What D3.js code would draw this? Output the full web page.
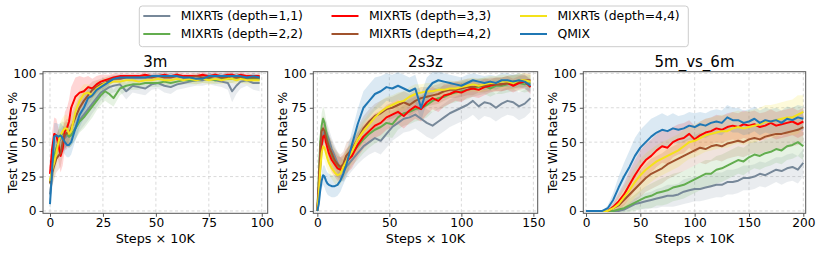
<!DOCTYPE html>
<html>
<head>
<meta charset="utf-8">
<script src="https://cdn.jsdelivr.net/npm/d3@7/dist/d3.min.js"></script>
<style>
  body { margin: 0; background: #fff; }
  svg { display: block; font-family: "DejaVu Sans", sans-serif; }
</style>
</head>
<body>
<div id="chart"></div>
<script>
// ---- data -------------------------------------------------------------
const seriesNames = ['MIXRTs (depth=1,1)', 'MIXRTs (depth=2,2)', 'MIXRTs (depth=3,3)',
                     'MIXRTs (depth=4,2)', 'MIXRTs (depth=4,4)', 'QMIX'];
const mapNames = ['3m', '2s3z', '5m_vs_6m'];
const yTickValues = [0, 25, 50, 75, 100];
const xTicks3m = [0, 25, 50, 75, 100];
const xTicks2s3z = [0, 50, 100, 150];
const xTicks5m6m = [0, 50, 100, 150, 200];

// 3m
const steps3m = [0,1,2,3,4,5,6,7,8,9,10,12,14,16,18,20,22,24,26,28,30,33,36,39,42,45,48,51,54,57,60,63,66,69,72,75,78,81,84,86,88,90,93,96,99];
const win3m_d11 = [12,25,40,45,50,52,54,53,55,54,55,60,66,70,74,78,82,86,88,90,91,92,87,91,90,89,92,93,91,90,92,93,94,95,95,96,95,94,93,87,91,94,95,93,93];
const win3m_d22 = [20,30,40,45,50,55,56,55,56,54,55,60,65,68,72,76,80,84,87,85,82,89,91,92,92,93,93,93,94,93,94,95,95,95,96,96,95,96,96,96,97,96,96,96,96];
const win3m_d33 = [27,45,56,55,48,40,45,58,60,65,75,83,86,87,90,89,92,94,95,96,97,98,98,98,98,99,98,98,99,98,99,98,98,98,99,98,99,98,99,99,98,99,98,98,98];
const win3m_d42 = [20,28,33,38,40,42,50,55,57,56,60,68,75,80,84,88,90,92,93,95,96,96,97,97,97,97,97,98,97,97,98,97,97,98,97,97,98,97,97,98,97,97,97,97,97];
const win3m_d44 = [22,30,35,42,50,55,58,60,60,56,58,72,80,85,86,84,89,91,93,93,94,94,95,95,94,95,95,96,95,95,96,95,96,95,96,95,96,95,96,96,95,96,95,95,95];
const win3m_qmix = [5,30,54,55,54,55,53,50,48,48,50,60,70,75,82,84,88,90,92,94,96,97,97,97,97,97,98,98,98,98,98,97,97,96,96,98,98,98,98,98,98,98,97,98,97];
const sd3m_d11 = [6,10,12,10,9,8,8,8,8,8,8,8,8,8,8,7,7,6,6,5,5,5,6,5,5,5,4,4,5,5,4,4,4,4,4,4,4,4,5,8,6,5,4,5,6];
const sd3m_d22 = [8,10,10,10,9,9,9,9,9,8,8,8,8,8,8,8,7,7,7,7,6,5,4,4,4,3,3,3,3,3,3,3,3,3,3,3,3,3,3,3,3,3,3,3,3];
const sd3m_d33 = [8,12,12,12,12,12,12,14,15,16,15,14,12,10,8,7,6,5,4,3,3,2,2,2,2,2,2,2,2,2,2,2,2,2,2,2,2,2,2,2,2,2,2,2,2];
const sd3m_d42 = [8,10,10,10,10,10,10,10,10,10,10,9,9,8,7,6,5,4,4,3,3,3,2,2,2,2,2,2,2,2,2,2,2,2,2,2,2,2,2,2,2,2,2,2,2];
const sd3m_d44 = [8,10,10,10,10,10,10,10,10,10,10,9,8,7,6,6,5,4,4,4,3,3,3,3,3,3,3,3,3,3,3,3,3,3,3,3,3,3,3,3,3,3,3,3,3];
const sd3m_qmix = [6,10,10,9,9,9,9,9,9,9,9,9,9,8,7,6,5,4,3,3,2,2,2,2,2,2,2,2,2,2,2,2,2,2,2,2,2,2,2,2,2,2,2,2,2];

// 2s3z
const steps2s3z = [0,1,2,3,4,5,6,7,8,10,12,14,16,18,20,24,28,32,36,40,44,48,52,56,60,64,68,72,76,80,84,88,92,96,100,104,108,112,116,120,124,128,132,136,140,144,148];
const win2s3z_d11 = [0,15,30,45,55,58,58,55,52,45,40,35,31,29,32,37,42,47,50,53,51,56,61,64,67,68,70,67,64,62,65,68,71,73,75,77,80,76,79,78,75,78,80,79,76,78,82];
const win2s3z_d22 = [0,25,50,62,67,64,58,52,47,40,36,33,30,31,35,42,47,52,56,59,61,64,63,68,71,72,74,75,77,80,82,83,85,86,87,88,89,90,91,89,91,91,92,93,93,92,93];
const win2s3z_d33 = [0,15,35,48,54,55,50,46,42,37,34,31,30,32,36,40,48,54,58,62,64,68,70,72,69,73,76,74,79,82,80,84,85,87,86,88,89,88,90,91,92,92,93,91,93,94,90];
const win2s3z_d42 = [0,20,45,58,60,58,54,50,47,42,37,34,32,34,40,45,52,60,65,69,71,74,75,77,79,77,80,82,83,84,85,87,88,88,89,90,90,91,91,92,92,92,93,94,94,95,95];
const win2s3z_d44 = [0,12,30,42,47,46,42,38,35,31,28,26,27,32,36,43,52,58,63,68,72,75,77,79,80,83,85,86,87,87,88,88,89,89,90,91,92,91,92,93,93,94,94,93,95,95,94];
const win2s3z_qmix = [0,5,15,22,26,25,22,20,19,18,18,19,22,27,33,48,63,75,80,85,87,90,89,91,89,87,89,75,88,93,95,94,93,92,91,93,95,94,93,94,93,95,95,94,95,94,91];
const sd2s3z_d11 = [0,3,6,8,8,8,8,8,8,8,8,8,8,8,8,8,8,9,9,10,10,10,10,10,10,10,10,10,10,10,10,10,10,10,10,10,10,10,10,10,10,10,10,10,10,10,10];
const sd2s3z_d22 = [0,4,8,9,9,9,9,9,9,9,9,9,9,9,9,9,10,10,10,10,10,10,10,9,9,9,9,9,9,8,8,8,7,7,7,7,6,6,6,6,6,6,6,6,6,6,6];
const sd2s3z_d33 = [0,4,8,9,9,9,9,9,9,9,9,9,9,9,9,9,9,9,9,9,9,9,9,9,9,9,9,9,9,8,8,8,7,7,7,6,6,6,6,5,5,5,5,5,5,5,5];
const sd2s3z_d42 = [0,4,8,9,9,9,9,9,9,9,9,9,9,9,9,9,9,9,9,9,9,8,8,8,8,8,8,8,7,7,7,7,6,6,6,6,6,5,5,5,5,5,5,5,5,5,5];
const sd2s3z_d44 = [0,4,8,9,9,9,9,8,8,8,8,8,8,8,8,8,8,8,8,8,8,8,7,7,7,7,7,6,6,6,6,6,6,5,5,5,5,5,5,5,5,5,5,5,5,5,5];
const sd2s3z_qmix = [0,2,4,6,7,8,8,8,8,8,8,8,8,8,9,10,11,12,12,12,11,10,10,10,10,10,10,10,9,8,7,6,6,6,6,6,5,5,5,5,5,5,5,5,5,5,5];

// 5m_vs_6m
const steps5m6m = [0,5,10,15,20,25,30,35,40,45,50,55,60,65,70,75,80,85,90,95,100,105,110,115,120,125,130,135,140,145,150,155,160,165,170,175,180,185,190,195,200];
const win5m6m_d11 = [0,0,0,0,0,0,0,1,3,5,6,7,8,9,10,11,11,12,14,15,16,16,17,18,19,19,21,21,22,24,24,25,27,26,28,30,29,31,32,30,35];
const win5m6m_d22 = [0,0,0,0,0,0,1,2,4,6,8,10,11,13,14,15,17,18,19,21,23,25,27,27,30,31,33,35,37,36,39,41,40,42,43,45,44,47,48,50,47];
const win5m6m_d33 = [0,0,0,0,0,3,7,12,19,26,32,37,40,44,47,46,50,52,53,56,52,55,57,58,60,59,61,62,61,63,62,63,61,62,64,62,63,64,65,63,65];
const win5m6m_d42 = [0,0,0,0,0,2,4,8,12,16,20,24,27,29,31,34,36,38,40,42,44,46,45,47,48,47,49,50,51,50,52,53,52,54,55,56,56,57,58,59,61];
const win5m6m_d44 = [0,0,0,0,0,2,5,10,15,21,26,30,33,36,38,40,42,44,47,50,51,53,55,56,57,58,58,60,61,60,61,62,63,65,65,66,67,68,68,70,72];
const win5m6m_qmix = [0,0,0,0,2,8,17,25,32,40,46,50,54,57,59,58,60,59,60,62,61,63,62,64,65,64,68,66,66,64,65,67,64,66,65,66,64,67,66,68,67];
const sd5m6m_d11 = [0,0,0,0,0,0,1,2,3,4,5,6,6,7,7,8,8,8,9,9,9,9,9,9,9,9,9,9,9,9,9,9,9,9,9,9,10,10,10,10,10];
const sd5m6m_d22 = [0,0,0,0,0,1,2,3,5,6,7,8,9,9,10,10,10,10,10,10,10,10,10,10,10,10,10,10,10,10,10,10,10,10,10,10,10,10,10,10,10];
const sd5m6m_d33 = [0,0,0,0,1,3,6,8,10,11,12,12,12,12,12,12,11,11,11,10,10,10,10,10,10,10,10,10,10,10,10,10,10,10,10,10,10,10,10,10,10];
const sd5m6m_d42 = [0,0,0,0,1,2,4,6,8,9,10,10,11,11,11,11,11,11,11,11,11,11,11,11,11,11,11,11,11,11,11,11,11,11,11,11,11,11,11,11,11];
const sd5m6m_d44 = [0,0,0,0,1,3,6,8,10,11,12,12,12,12,12,12,12,12,12,12,12,12,12,12,12,12,12,12,12,12,12,12,12,12,12,12,12,12,13,14,12];
const sd5m6m_qmix = [0,0,0,0,2,5,8,10,12,13,13,13,13,12,12,11,11,10,10,10,10,9,9,9,9,9,9,9,9,9,9,9,9,9,9,9,9,9,9,9,9];

// ---- chart ------------------------------------------------------------
const winRateChart = (() => {
  const width = 822,
        height = 255,
        top = 71.7,
        bottom = 213.3;

  const colors = ['#778899', '#63ad4f', '#ff0000', '#a0522d', '#f4e21a', '#1f77b4'];
  const legendOrder = [0, 2, 4, 1, 3, 5]; // row major, 3 columns

  const panels = [
    {steps: steps3m, xTicks: xTicks3m, xDomain: [-3.3, 102.8], left: 43, right: 267.7,
     means: [win3m_d11, win3m_d22, win3m_d33, win3m_d42, win3m_d44, win3m_qmix],
     sds: [sd3m_d11, sd3m_d22, sd3m_d33, sd3m_d42, sd3m_d44, sd3m_qmix]},
    {steps: steps2s3z, xTicks: xTicks2s3z, xDomain: [-2.8, 153], left: 313.3, right: 537.7,
     means: [win2s3z_d11, win2s3z_d22, win2s3z_d33, win2s3z_d42, win2s3z_d44, win2s3z_qmix],
     sds: [sd2s3z_d11, sd2s3z_d22, sd2s3z_d33, sd2s3z_d42, sd2s3z_d44, sd2s3z_qmix]},
    {steps: steps5m6m, xTicks: xTicks5m6m, xDomain: [-2.5, 202.2], left: 583.3, right: 805.7,
     means: [win5m6m_d11, win5m6m_d22, win5m6m_d33, win5m6m_d42, win5m6m_d44, win5m6m_qmix],
     sds: [sd5m6m_d11, sd5m6m_d22, sd5m6m_d33, sd5m6m_d42, sd5m6m_d44, sd5m6m_qmix]},
  ];

  const init = (el) => {
    panels.forEach((p, pi) => {
      [...p.means, ...p.sds].forEach(arr => {
        if(arr.length !== p.steps.length) throw new Error('length mismatch in panel ' + pi);
      });
    });

    const $svg = d3.select(el).append('svg')
      .attr('width', width)
      .attr('height', height);

    const y = d3.scaleLinear().domain([-1.7, 101.2]).range([bottom, top]);

    panels.forEach((p, pi) => drawPanel($svg, p, pi, y));
    drawLegend($svg);
  };

  function drawPanel($svg, p, pi, y) {
    const x = d3.scaleLinear().domain(p.xDomain).range([p.left, p.right]);
    const $g = $svg.append('g');

    $svg.append('clipPath').attr('id', 'clip' + pi)
      .append('rect')
        .attr('x', p.left).attr('y', top)
        .attr('width', p.right - p.left).attr('height', bottom - top);

    // grid
    $g.selectAll('.gx').data(p.xTicks).enter().append('line')
      .attr('x1', d => x(d)).attr('x2', d => x(d))
      .attr('y1', top).attr('y2', bottom)
      .attr('stroke', '#d0d0d0').attr('stroke-width', 0.8).attr('stroke-dasharray', '3,2.5');
    $g.selectAll('.gy').data(yTickValues).enter().append('line')
      .attr('x1', p.left).attr('x2', p.right)
      .attr('y1', d => y(d)).attr('y2', d => y(d))
      .attr('stroke', '#d0d0d0').attr('stroke-width', 0.8).attr('stroke-dasharray', '3,2.5');

    const $plot = $g.append('g').attr('clip-path', `url(#clip${pi})`);
    const idx = d3.range(p.steps.length);

    p.means.forEach((m, si) => {
      const area = d3.area()
        .x(i => x(p.steps[i]))
        .y0(i => y(m[i] - p.sds[si][i]))
        .y1(i => y(m[i] + p.sds[si][i]));
      $plot.append('path')
        .attr('d', area(idx))
        .attr('fill', colors[si])
        .attr('fill-opacity', 0.16);
    });

    p.means.forEach((m, si) => {
      const line = d3.line()
        .x(i => x(p.steps[i]))
        .y(i => y(m[i]));
      $plot.append('path')
        .attr('d', line(idx))
        .attr('fill', 'none')
        .attr('stroke', colors[si])
        .attr('stroke-width', 2)
        .attr('stroke-linejoin', 'round');
    });

    // axes
    const $xAxis = $g.append('g')
      .attr('transform', `translate(0, ${bottom})`)
      .call(d3.axisBottom(x).tickValues(p.xTicks).tickSize(3.5).tickPadding(2));
    const $yAxis = $g.append('g')
      .attr('transform', `translate(${p.left}, 0)`)
      .call(d3.axisLeft(y).tickValues(yTickValues).tickSize(3.5).tickPadding(3));
    [$xAxis, $yAxis].forEach($a => {
      $a.select('.domain').remove();
      $a.selectAll('line').attr('stroke', '#555').attr('stroke-width', 1);
      $a.selectAll('text').attr('fill', '#000').style('font-size', '12.2px')
        .style('font-family', '"DejaVu Sans", sans-serif');
    });

    // frame
    $g.append('rect')
      .attr('x', p.left).attr('y', top)
      .attr('width', p.right - p.left).attr('height', bottom - top)
      .attr('fill', 'none').attr('stroke', '#555').attr('stroke-width', 1);

    const cx = (p.left + p.right) / 2;
    $g.append('text')
      .attr('x', cx).attr('y', 66.7)
      .attr('text-anchor', 'middle')
      .style('font-size', '15px')
      .text(mapNames[pi]);
    $g.append('text')
      .attr('x', cx).attr('y', 243)
      .attr('text-anchor', 'middle')
      .style('font-size', '12.8px')
      .text('Steps \u00d7 10K');
    $g.append('text')
      .attr('transform', `translate(${p.left - 26.5}, ${(top + bottom) / 2}) rotate(-90)`)
      .attr('text-anchor', 'middle')
      .style('font-size', '12.6px')
      .text('Test Win Rate %');
  }

  function drawLegend($svg) {
    const $leg = $svg.append('g');
    $leg.append('rect')
      .attr('x', 139.3).attr('y', 6)
      .attr('width', 549).attr('height', 40.7)
      .attr('rx', 3)
      .attr('fill', '#fff').attr('stroke', '#ccc').attr('stroke-width', 1);

    const colX = [143.3, 331.5, 520],
          rowY = [16, 34];
    legendOrder.forEach((si, k) => {
      const cx = colX[k % 3], cy = rowY[Math.floor(k / 3)];
      $leg.append('line')
        .attr('x1', cx).attr('x2', cx + 27)
        .attr('y1', cy).attr('y2', cy)
        .attr('stroke', colors[si]).attr('stroke-width', 2);
      $leg.append('text')
        .attr('x', cx + 37.4).attr('y', cy)
        .attr('dy', '0.35em')
        .style('font-size', '12.4px')
        .text(seriesNames[si]);
    });
  }

  return { init: init };
})();

winRateChart.init(document.getElementById('chart'));
</script>
</body>
</html>
